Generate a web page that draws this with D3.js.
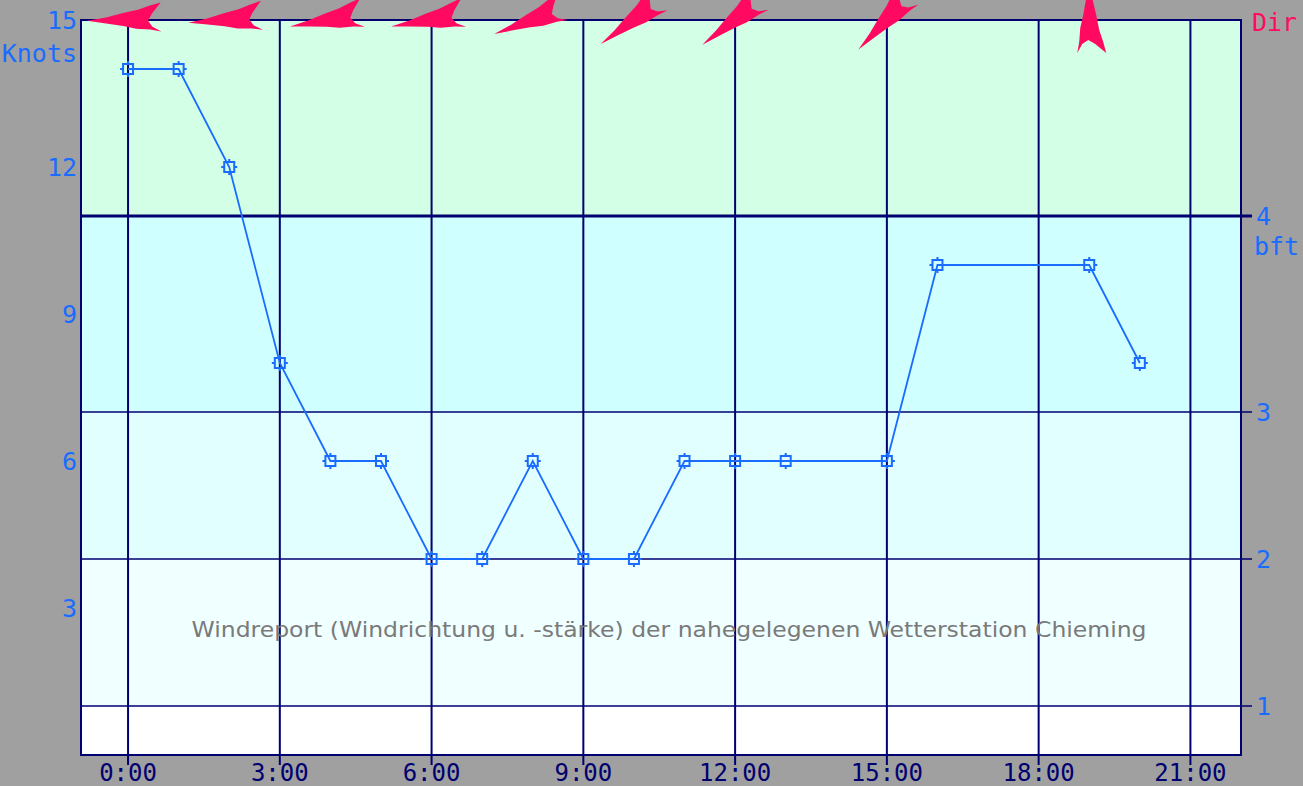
<!DOCTYPE html>
<html>
<head>
<meta charset="utf-8">
<script src="https://cdn.jsdelivr.net/npm/d3@7"></script>
<style>
  body { margin: 0; background: #a0a0a0; }
  svg { display: block; }
</style>
</head>
<body>
<script>
// wind speed per hour (knots)
var hours = [0, 1, 2, 3, 4, 5, 6, 7, 8, 9, 10, 11, 12, 13, 15, 16, 19, 20];
var knots = [14, 14, 12, 8, 6, 6, 4, 4, 6, 4, 4, 6, 6, 6, 6, 10, 10, 8];

// wind direction arrows (degrees, where the wind comes from)
var dirHours = [0, 2, 4, 6, 8, 10, 12, 15, 19];
var dirDeg = [89, 86, 81, 81, 70, 54, 53, 44, 180];

// axes
var knotTicks = [3, 6, 9, 12, 15];
var hourTicks = [0, 3, 6, 9, 12, 15, 18, 21];
var bftKnots = [1, 4, 7, 11];
var bftLabels = ["1", "2", "3", "4"];
var bandColors = ["#ffffff", "#f0ffff", "#e2ffff", "#d0ffff", "#d2ffe6"];

var title = "Windreport (Windrichtung u. -stärke) der nahegelegenen Wetterstation Chieming";

const W = 1303, H = 786;
const pLeft = 81, pRight = 1241, pTop = 20, pBottom = 755;
const navy = "#000070", blue = "#1a6cff", pink = "#ff0a60";
const mono = "'DejaVu Sans Mono', monospace";

var svg = d3.select("body").append("svg").attr("width", W).attr("height", H)
  .style("font-family", mono);

var x = d3.scaleLinear().domain([-0.93, 22]).range([pLeft, pRight]);
var y = d3.scaleLinear().domain([0, 15]).range([pBottom, pTop]);

// beaufort bands
var edges = [0].concat(bftKnots, [15]);
svg.append("g")
  .selectAll("rect")
  .data(bandColors)
  .enter()
  .append("rect")
  .attr("x", pLeft)
  .attr("width", pRight - pLeft)
  .attr("y", (_, i) => y(edges[i + 1]))
  .attr("height", (_, i) => y(edges[i]) - y(edges[i + 1]))
  .attr("fill", (d) => d);

// vertical grid + ticks below
svg.append("g")
  .selectAll("line")
  .data(hourTicks)
  .enter()
  .append("line")
  .attr("x1", (d) => x(d))
  .attr("x2", (d) => x(d))
  .attr("y1", pTop)
  .attr("y2", pBottom + 10)
  .attr("stroke", navy)
  .attr("stroke-width", 2);

// horizontal bft lines + ticks to the right
svg.append("g")
  .selectAll("line")
  .data(bftKnots)
  .enter()
  .append("line")
  .attr("x1", pLeft)
  .attr("x2", pRight + 11)
  .attr("y1", (d) => y(d))
  .attr("y2", (d) => y(d))
  .attr("stroke", navy)
  .attr("stroke-width", (d) => (d === 11 ? 3 : 1.6));

// frame
svg.append("rect")
  .attr("x", pLeft)
  .attr("y", pTop)
  .attr("width", pRight - pLeft)
  .attr("height", pBottom - pTop)
  .attr("fill", "none")
  .attr("stroke", navy)
  .attr("stroke-width", 2);

// left knots labels
svg.append("g")
  .selectAll("text")
  .data(knotTicks)
  .enter()
  .append("text")
  .attr("x", 77)
  .attr("y", (d) => y(d) + 9)
  .attr("text-anchor", "end")
  .attr("font-size", 25)
  .attr("fill", blue)
  .text((d) => d);

svg.append("text")
  .attr("x", 77).attr("y", 62)
  .attr("text-anchor", "end")
  .attr("font-size", 25)
  .attr("fill", blue)
  .text("Knots");

// right bft labels
svg.append("g")
  .selectAll("text")
  .data(bftKnots)
  .enter()
  .append("text")
  .attr("x", 1256)
  .attr("y", (d) => y(d) + 9)
  .attr("font-size", 25)
  .attr("fill", blue)
  .text((_, i) => bftLabels[i]);

svg.append("text")
  .attr("x", 1254).attr("y", 255)
  .attr("font-size", 25)
  .attr("fill", blue)
  .text("bft");

svg.append("text")
  .attr("x", 1252).attr("y", 31)
  .attr("font-size", 25)
  .attr("fill", pink)
  .text("Dir");

// hour labels
svg.append("g")
  .selectAll("text")
  .data(hourTicks)
  .enter()
  .append("text")
  .attr("x", (d) => x(d))
  .attr("y", 781)
  .attr("text-anchor", "middle")
  .attr("font-size", 24)
  .attr("fill", navy)
  .text((d) => d + ":00");

// caption
svg.append("text")
  .attr("x", 669)
  .attr("y", 637)
  .attr("text-anchor", "middle")
  .style("font-family", "'DejaVu Sans', sans-serif")
  .attr("font-size", 21)
  .attr("fill", "#7a7a7a")
  .attr("textLength", 955)
  .attr("lengthAdjust", "spacingAndGlyphs")
  .text(title);

// speed line
var pts = hours.map((h, i) => [x(h), y(knots[i])]);
svg.append("path")
  .attr("d", d3.line()(pts))
  .attr("fill", "none")
  .attr("stroke", blue)
  .attr("stroke-width", 1.8);

var marks = svg.append("g")
  .selectAll("g")
  .data(pts)
  .enter()
  .append("g")
  .attr("transform", (d) => `translate(${d[0]},${d[1]})`);

marks.append("rect")
  .attr("x", -5).attr("y", -5)
  .attr("width", 10).attr("height", 10)
  .attr("fill", "none")
  .attr("stroke", blue)
  .attr("stroke-width", 2);

marks.append("path")
  .attr("d", "M-8,0H-5M5,0H8M0,-8V-5M0,5V8")
  .attr("stroke", blue)
  .attr("stroke-width", 2);

// direction arrows, tail fork points where wind comes from
var arrowShape = "M-41,0 L-22,-3 L-5,-7 L10,-10 L22,-14 L33,-17 L24,-6 L20,1 L24,7 L33,12 L22,10 L8,9 L-5,6 L-22,3 Z";
svg.append("g")
  .selectAll("path")
  .data(dirHours)
  .enter()
  .append("path")
  .attr("d", arrowShape)
  .attr("transform", (d, i) => `translate(${x(d)},${pTop}) rotate(${dirDeg[i] - 90})`)
  .attr("fill", pink);
</script>
</body>
</html>
